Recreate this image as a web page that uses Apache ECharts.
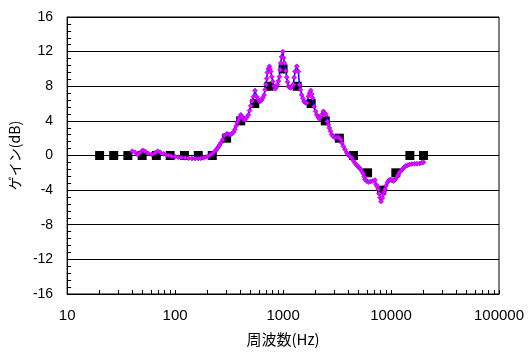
<!DOCTYPE html>
<html>
<head>
<meta charset="utf-8">
<script src="https://cdn.jsdelivr.net/npm/echarts@6/dist/echarts.min.js"></script>
<style>
  html, body { margin: 0; padding: 0; background: #fff; }
  #chart { width: 528px; height: 352px; }
</style>
</head>
<body>
<div id="chart"></div>
<script>
// 目標値 (黒い四角)
var targetFreq = [20, 27, 36.5, 49.5, 67, 90, 122, 164, 221, 300, 405, 547, 740, 1000,
  1350, 1820, 2460, 3320, 4490, 6060, 8190, 11070, 14950, 20000];
var targetGain = [0, 0, 0, 0, 0, 0, 0, 0, 0, 2, 4, 6, 8, 10, 8, 6, 4, 2, 0, -2, -4, -2, 0, 0];

// 測定値 (青線+マゼンタの菱形)
var measFreq = [40, 42.6, 45, 47.4, 50, 52.7, 56.6, 60.8, 65.3, 69, 72.6, 78, 84, 88, 93,
  100, 107, 115, 124, 133, 143, 153, 164, 173, 183, 193, 203, 212, 221, 230, 238, 245, 252,
  258, 265, 276, 286, 301, 312, 323, 335, 347, 357, 367, 377, 386, 396, 406, 415, 423, 433,
  444, 460, 477, 490, 502, 516, 531, 550, 571, 587, 604, 620, 635, 651, 667, 681, 696, 706,
  716, 732, 747, 758, 769, 786, 803, 822, 844, 865, 886, 905, 925, 940, 952, 970, 994, 1010,
  1028, 1055, 1082, 1100, 1120, 1150, 1178, 1210, 1245, 1268, 1291, 1339, 1387, 1416, 1450,
  1490, 1525, 1564, 1610, 1656, 1714, 1760, 1804, 1840, 1883, 1936, 2000, 2051, 2110, 2168,
  2225, 2281, 2361, 2430, 2500, 2571, 2630, 2684, 2750, 2825, 2920, 3030, 3140, 3251, 3330,
  3420, 3510, 3615, 3750, 3889, 4000, 4100, 4200, 4327, 4480, 4645, 4800, 4981, 5100, 5240,
  5400, 5540, 5650, 5745, 5950, 6165, 6450, 6772, 7100, 7265, 7450, 7627, 7760, 7906, 8076,
  8300, 8483, 8650, 8796, 9000, 9239, 9500, 9790, 10150, 10500, 10850, 11200, 11550, 11900,
  12300, 12700, 13150, 13600, 14200, 14800, 15600, 16500, 17400, 18400, 19200, 20000];
var measGain = [0.5, 0.38, 0.12, 0.31, 0.6, 0.5, 0.23, 0.12, 0.31, 0.5, 0.38, 0.19, 0.04, 0, -0.08,
  -0.14, -0.19, -0.23, -0.27, -0.31, -0.35, -0.36, -0.35, -0.32, -0.27, -0.18, -0.08, 0.07, 0.23, 0.4, 0.58, 0.8, 1.0,
  1.2, 1.46, 1.84, 2.3, 2.5, 2.45, 2.4, 2.5, 2.7, 3.0, 3.4, 3.8, 4.1, 4.4, 4.7, 4.5, 4.3, 4.15,
  4.1, 4.4, 4.7, 5.2, 5.75, 6.3, 6.8, 7.5, 6.8, 6.5, 6.25, 6.3, 6.45, 6.7, 7.0, 7.6, 8.2, 8.9,
  9.6, 10.0, 10.3, 10.0, 9.7, 9.1, 8.55, 8.0, 7.7, 7.9, 8.2, 8.6, 9.1, 9.9, 10.7, 11.4, 12.0, 11.3,
  10.7, 9.8, 9.05, 8.5, 8.0, 7.85, 7.8, 8.0, 8.2, 9.0, 9.7, 10.3, 9.7, 8.17, 7.6,
  7.0, 6.6, 6.25, 6.1, 6.07, 6.83, 7.2, 7.52, 7.1, 6.64, 5.67, 5.1, 4.72, 4.45, 4.22,
  4.45, 4.72, 5.1, 4.9, 4.72, 3.95, 3.55, 3.19, 2.8, 2.42, 2.2, 2.04, 2.1, 2.15, 2.0,
  1.84, 1.45, 1.07, 0.7, 0.31, 0.1, 0, -0.15, -0.3, -0.6, -0.9, -1.1, -1.3, -1.45, -1.6,
  -1.85, -2.1, -2.45, -2.76, -2.95, -3.07, -3.0, -2.96, -2.84, -3.34, -3.6, -3.91, -4.4, -4.87, -5.3,
  -4.9, -4.49, -4.2, -3.91, -3.5, -3.14, -2.9, -2.76, -2.85, -2.96, -2.8, -2.57, -2.3, -1.99,
  -1.8, -1.61, -1.4, -1.23, -1.12, -1.04, -0.98, -0.96, -0.94, -0.92, -0.85, -0.77];

// x軸の目盛り (対数)
var xTicks = [10, 20, 30, 40, 50, 60, 70, 80, 90, 100, 200, 300, 400, 500, 600, 700, 800, 900,
  1000, 2000, 3000, 4000, 5000, 6000, 7000, 8000, 9000, 10000, 20000, 30000, 40000, 50000,
  60000, 70000, 80000, 90000, 100000];

var zip = function (xs, ys) {
  return xs.map(function (x, i) { return [x, ys[i]]; });
};

var chart = echarts.init(document.getElementById("chart"));
var option = {
  animation: false,
  backgroundColor: "#fff",
  textStyle: { fontFamily: "Liberation Sans, Noto Sans CJK JP, sans-serif" },
  grid: {
    left: 67, right: 29, top: 17, bottom: 57,
    show: true, borderColor: "#000", borderWidth: 1
  },
  xAxis: {
    type: "log",
    logBase: 10,
    min: 10,
    max: 100000,
    name: "周波数(Hz)",
    nameLocation: "middle",
    nameGap: 38,
    nameTextStyle: { fontSize: 15, color: "#000", fontFamily: "Noto Sans CJK JP" },
    axisLine: { onZero: false, lineStyle: { color: "#000", width: 1 } },
    axisTick: { inside: true, length: 4, customValues: xTicks, lineStyle: { color: "#000" } },
    axisLabel: {
      fontSize: 15, color: "#000", margin: 14,
      formatter: function (v) { return String(Math.round(v)); }
    },
    splitLine: { show: false },
    minorTick: { show: false }
  },
  yAxis: {
    type: "value",
    min: -16,
    max: 16,
    interval: 4,
    name: "ゲイン(dB)",
    nameLocation: "middle",
    nameRotate: 90,
    nameGap: 44,
    nameTextStyle: { fontSize: 14, color: "#000", fontFamily: "Noto Sans CJK JP" },
    axisLine: { show: true, onZero: false, lineStyle: { color: "#000", width: 1 } },
    axisTick: { show: true, inside: true, length: 4, lineStyle: { color: "#000" } },
    minorTick: { show: true, splitNumber: 5, length: 4, lineStyle: { color: "#000" } },
    axisLabel: { fontSize: 14, color: "#000", margin: 14 },
    splitLine: { show: true, lineStyle: { color: "#000", width: 1 } }
  },
  series: [
    {
      name: "目標",
      type: "scatter",
      symbol: "rect",
      symbolSize: 9,
      itemStyle: { color: "#000", opacity: 1 },
      data: zip(targetFreq, targetGain)
    },
    {
      name: "測定",
      type: "line",
      symbol: "diamond",
      symbolSize: 5,
      showAllSymbol: true,
      lineStyle: { color: "#0000ff", width: 1.5 },
      itemStyle: { color: "#ff00ff", borderColor: "#4000ff", borderWidth: 0.5 },
      data: zip(measFreq, measGain)
    }
  ]
};
chart.setOption(option);
</script>
</body>
</html>
